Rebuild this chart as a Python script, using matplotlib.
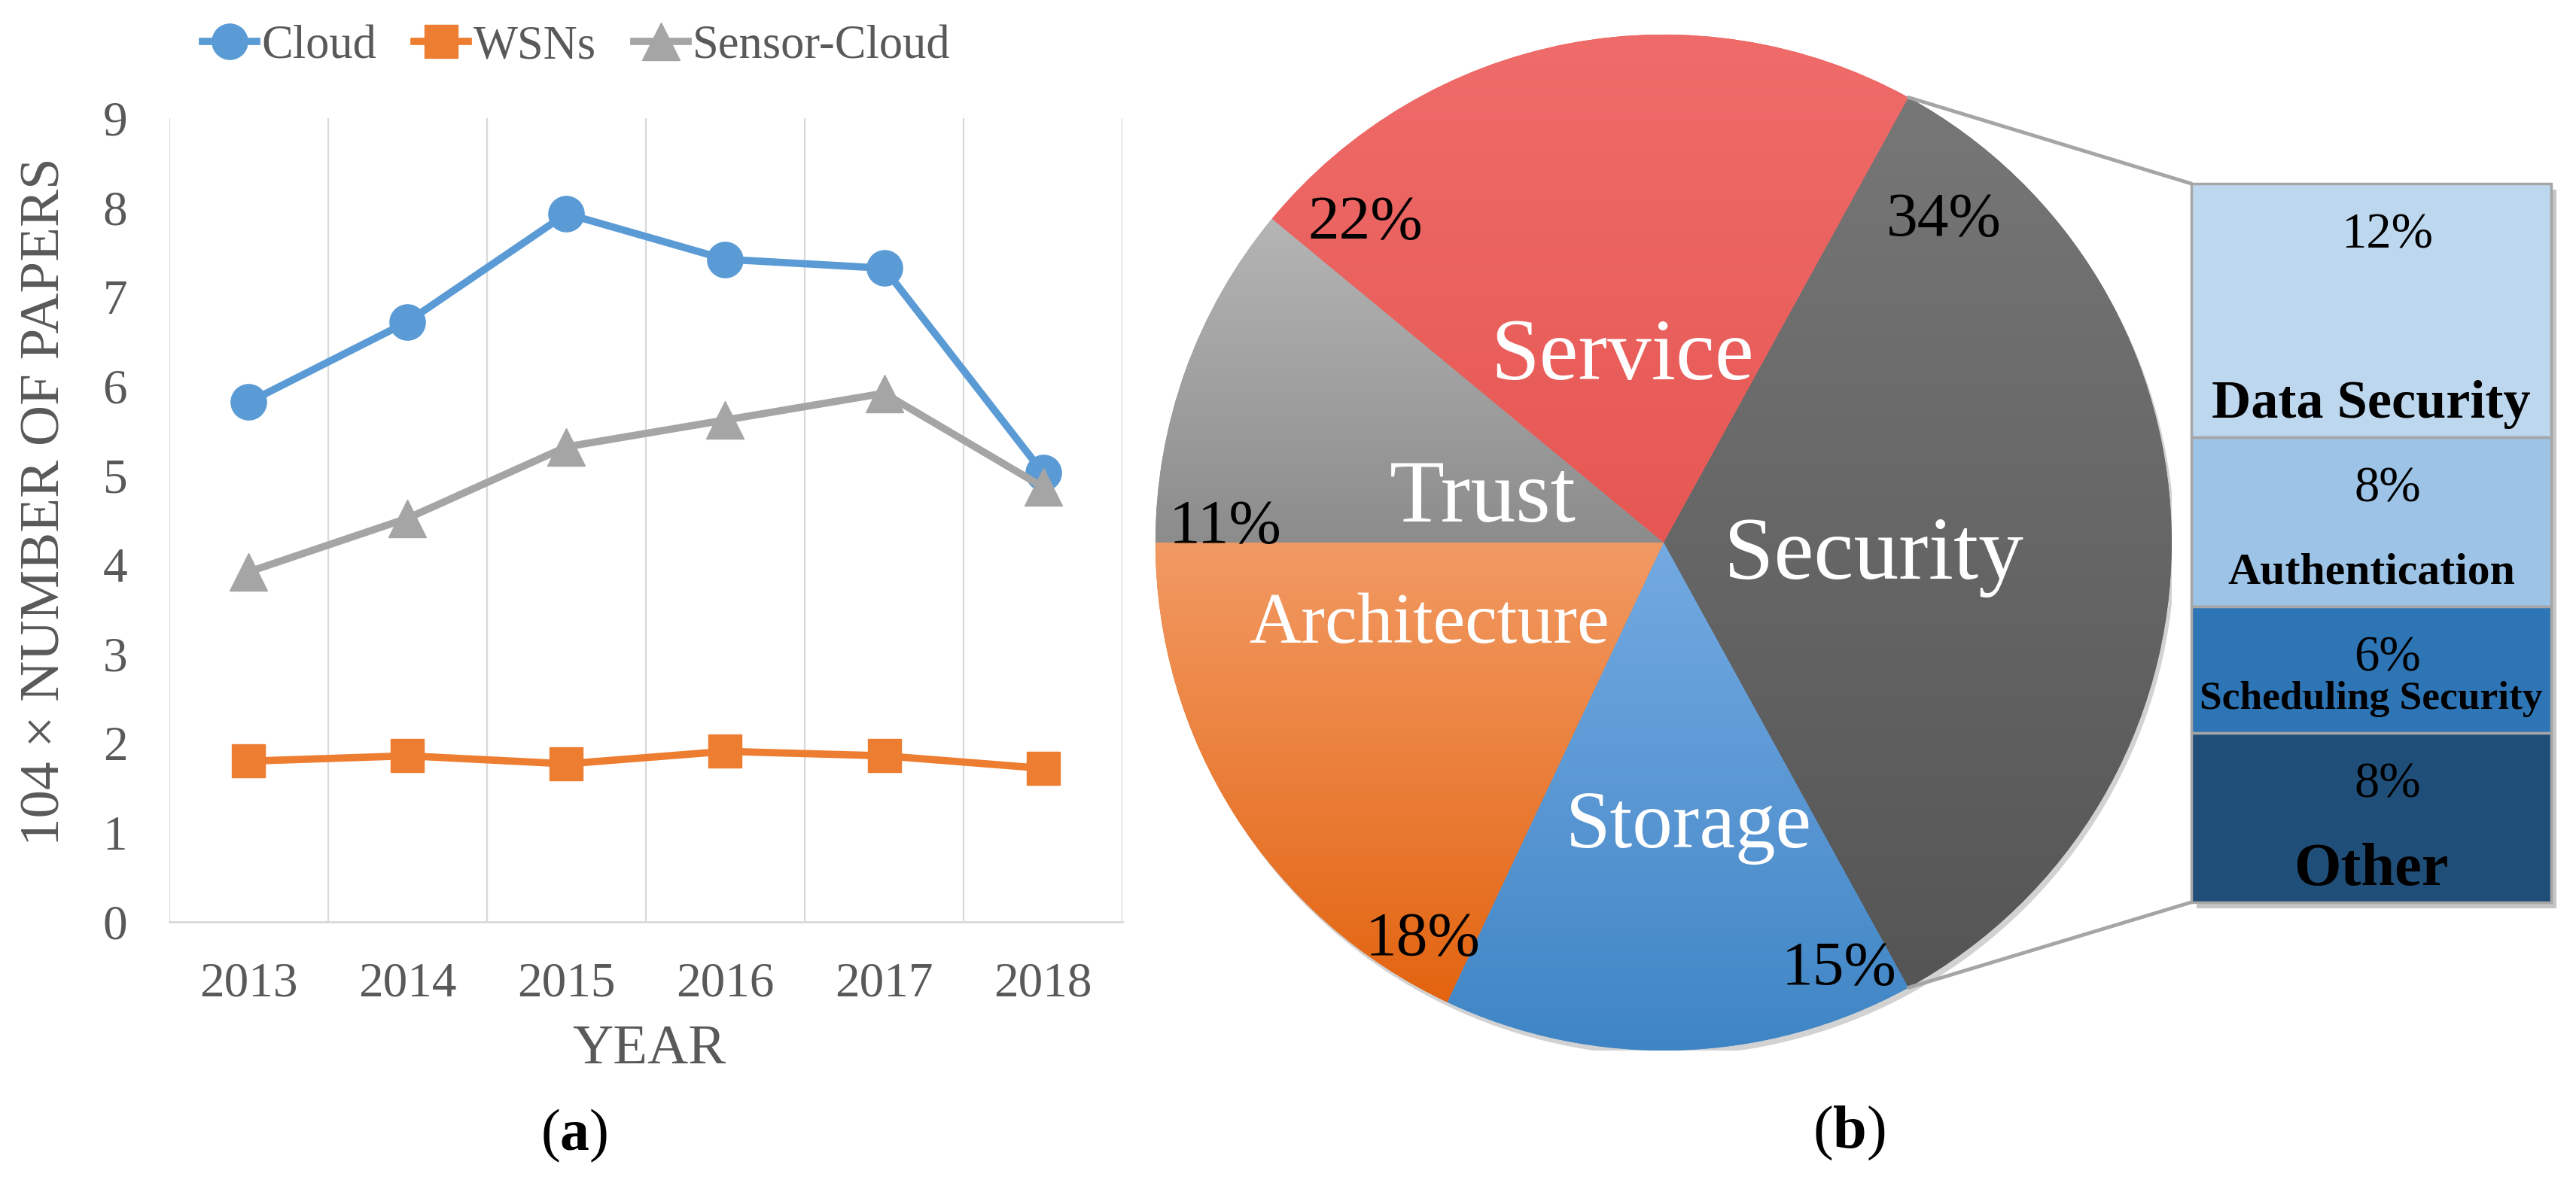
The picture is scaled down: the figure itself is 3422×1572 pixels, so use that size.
import numpy as np
import matplotlib.pyplot as plt
from matplotlib.colors import LinearSegmentedColormap
from matplotlib.patches import ConnectionPatch, Circle
import matplotlib.patheffects as pe

plt.rcParams['font.family'] = ['Liberation Serif', 'DejaVu Serif']
plt.rcParams['mathtext.fontset'] = 'custom'
plt.rcParams['mathtext.rm'] = 'Liberation Serif'
plt.rcParams['mathtext.bf'] = 'Liberation Serif:bold'

# (a) papers per year
years = ['2013', '2014', '2015', '2016', '2017', '2018']
cloud = [5.82, 6.72, 7.93, 7.42, 7.32, 5.03]
wsns = [1.80, 1.86, 1.77, 1.91, 1.86, 1.72]
sensor_cloud = [3.92, 4.52, 5.32, 5.62, 5.92, 4.87]

# (b) research topics, Security split into a bar
topics = ['Security', 'Storage', 'Architecture', 'Trust', 'Service']
topic_share = [34, 15, 18, 11, 22]
sec_parts = ['Other', 'Scheduling Security', 'Authentication', 'Data Security']
sec_share = [8, 6, 8, 12]

GREY_TXT = '#595959'
GRID = '#D9D9D9'

fig = plt.figure(figsize=(34.23, 15.72), dpi=100)

# ---------------- line chart ----------------
ax = fig.add_axes([0.0657, 0.2207, 0.3699, 0.6794])
x = np.arange(len(years))
ax.plot(x, cloud, color='#5B9BD5', lw=7, marker='o', ms=34, label='Cloud', zorder=3)
ax.plot(x, wsns, color='#ED7D31', lw=7, marker='s', ms=31, label='WSNs', zorder=3)
ax.plot(x, sensor_cloud, color='#A5A5A5', lw=7, marker='^', ms=36, label='Sensor-Cloud', zorder=3)

ax.set_xlim(-0.5, len(years) - 0.5)
ax.set_ylim(0, 9)
ax.set_yticks(range(10))
ax.set_xticks(x)
ax.set_xticklabels(years)
ax.set_xticks(np.arange(-0.5, len(years)), minor=True)
ax.grid(which='minor', axis='x', color=GRID, lw=1.6)
ax.tick_params(which='both', length=0, colors=GREY_TXT, labelsize=47)
ax.tick_params(axis='y', pad=40)
ax.tick_params(axis='x', pad=38)
for s in ['top', 'right', 'left']:
    ax.spines[s].set_visible(False)
ax.spines['bottom'].set_color(GRID)
ax.spines['bottom'].set_linewidth(2)

fig.text(61 / 3423, 1 - 667 / 1572, '104 × NUMBER OF PAPERS', rotation=90,
         ha='center', va='center', fontsize=54, color=GREY_TXT)
fig.text(862 / 3423, 1 - 1395 / 1572, 'YEAR', ha='center', va='center',
         fontsize=54, color=GREY_TXT)
fig.text(763 / 3423, 1 - 1509 / 1572, r'($\mathbf{a}$)', ha='center', va='center',
         fontsize=56, color='black')

leg = ax.legend(loc='center', bbox_to_anchor=(766 / 3423, 1 - 62 / 1572),
                bbox_transform=fig.transFigure, ncol=3, frameon=False, fontsize=45,
                handlelength=1.15, handletextpad=0.1, columnspacing=0.8)
for t in leg.get_texts():
    t.set_color(GREY_TXT)

# ---------------- pie ----------------
ax_pie = fig.add_axes([0.4484, 0.1120, 0.3944, 0.8588])
pie_top = ['#777777', '#74AAE2', '#F29A64', '#B5B5B5', '#EF6C6A']
pie_bot = ['#555555', '#3F85C5', '#E36410', '#8C8C8C', '#E65753']
start = topic_share[0] / 100 * 360 / 2
wedges, _ = ax_pie.pie(topic_share, startangle=start, counterclock=False,
                       colors=pie_bot, wedgeprops=dict(linewidth=0))
# soft drop shadow behind the pie
shade = Circle((0, 0), 1, facecolor='white', edgecolor='none', zorder=0)
shade.set_path_effects([pe.SimplePatchShadow(offset=(3, -5), shadow_rgbFace='#7F7F7F', alpha=0.35),
                        pe.Normal()])
ax_pie.add_patch(shade)
for w, ct, cb in zip(wedges, pie_top, pie_bot):
    a = np.radians(np.linspace(w.theta1, w.theta2, 200))
    ys = np.concatenate([[0], np.sin(a)])
    xs = np.concatenate([[0], np.cos(a)])
    grad = np.linspace(0, 1, 256).reshape(-1, 1)
    cmap = LinearSegmentedColormap.from_list('g', [cb, ct])
    im = ax_pie.imshow(grad, extent=[xs.min(), xs.max(), ys.min(), ys.max()],
                       origin='lower', cmap=cmap, aspect='auto', zorder=2)
    im.set_clip_path(w)
ax_pie.set_xlim(-1, 1)
ax_pie.set_ylim(-1, 1)
ax_pie.set_aspect('equal')
ax_pie.axis('off')

name_xy = [(0.413, -0.010), (0.049, -0.545), (-0.462, -0.148), (-0.356, 0.102), (-0.081, 0.381)]
name_fs = [86, 77, 69, 86, 84]
pct_xy = [(0.551, 0.647), (0.345, -0.827), (-0.474, -0.770), (-0.862, 0.043), (-0.587, 0.641)]
for name, v, nxy, fs, pxy in zip(topics, topic_share, name_xy, name_fs, pct_xy):
    ax_pie.text(*nxy, name, color='white', fontsize=fs, ha='center', va='center_baseline', zorder=5)
    ax_pie.text(*pxy, f'{v}%', color='black', fontsize=60, ha='center', va='center_baseline', zorder=5)

# ---------------- bar of pie ----------------
ax_bar = fig.add_axes([0.8504, 0.2373, 0.1396, 0.6075])
bar_colors = ['#1F4E79', '#2E75B6', '#9DC3E6', '#BDD7EE']
bottoms = np.concatenate([[0], np.cumsum(sec_share)[:-1]])
shadow = [pe.SimplePatchShadow(offset=(5, -6), shadow_rgbFace='#808080', alpha=0.45), pe.Normal()]
for i in reversed(range(len(sec_share))):
    b = ax_bar.bar(0, sec_share[i], bottom=bottoms[i], width=1, color=bar_colors[i],
                   edgecolor='#A6A6A6', linewidth=2.5, clip_on=False)
    b[0].set_path_effects(shadow)
ax_bar.set_xlim(-0.5, 0.5)
ax_bar.set_ylim(0, sum(sec_share))
ax_bar.axis('off')

part_fs = [58, 38.5, 43, 52]
for name, v, b0, fs in zip(sec_parts, sec_share, bottoms, part_fs):
    ax_bar.text(0.045, b0 + v - 2.2, f'{v}%', fontsize=48, ha='center', va='center_baseline')
    ax_bar.text(0, b0 + 1.8, name, fontsize=fs, fontweight='bold', ha='center', va='center_baseline')

rad = np.radians(start)
for py, by in [(np.sin(rad), sum(sec_share)), (-np.sin(rad), 0)]:
    con = ConnectionPatch(xyA=(np.cos(rad), py), coordsA=ax_pie.transData,
                          xyB=(-0.5, by), coordsB=ax_bar.transData,
                          color='#A5A5A5', lw=3.5)
    fig.add_artist(con)

fig.text(2456 / 3423, 1 - 1506 / 1572, r'($\mathbf{b}$)', ha='center', va='center',
         fontsize=58, color='black')

fig.savefig('out.png', dpi=100)
